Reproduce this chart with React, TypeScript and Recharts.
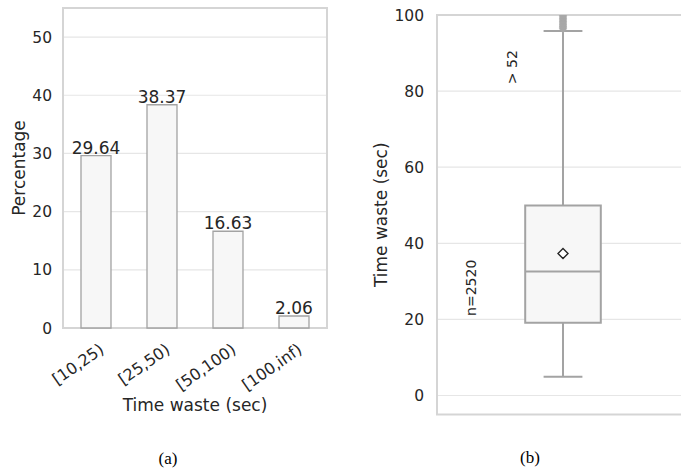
import React from "react";
import {
  BarChart, Bar, ComposedChart, Scatter, XAxis, YAxis, CartesianGrid,
  ReferenceArea, ReferenceLine, ReferenceDot, LabelList, Label
} from "recharts";

// (a) share of samples per time-waste bin
const BINS = ["[10,25)", "[25,50)", "[50,100)", "[100,inf)"];
const PCT = [29.64, 38.37, 16.63, 2.06];
const PCT_TICKS = [0, 10, 20, 30, 40, 50];

// (b) box plot summary, time waste in seconds
const BOX_STATS = { low: 4.9, q1: 19.1, median: 32.6, q3: 49.9, high: 95.8, mean: 37.3 };
const OUTLIERS = [96.4, 96.8, 97.1, 97.5, 97.9, 98.3, 98.7, 99.1, 99.5, 99.9];
const WASTE_TICKS = [0, 20, 40, 60, 80, 100];
const N_LABEL = "n=2520";
const OVER_LABEL = "> 52";

const barData = BINS.map((bin, i) => ({ bin, pct: PCT[i] }));

const FONT = "'DejaVu Sans', sans-serif";
const TXT = "#262626";
const SPINE = "#d5d5d5";
const GRID = "#e6e6e6";
const EDGE = "#a3a3a3";
const FACE = "#f7f7f7";

function XTick({ x, y, payload }: any) {
  const px = x + 9;
  const py = y + 24;
  return (
    <text x={px} y={py} textAnchor="end" transform={`rotate(-35, ${px}, ${py})`}
      fontSize={16} fill={TXT} fontFamily={FONT}>
      {payload.value}
    </text>
  );
}

function Diamond({ cx, cy }: any) {
  const r = 5;
  return <path d={`M${cx},${cy - r}L${cx + r},${cy}L${cx},${cy + r}L${cx - r},${cy}Z`}
    fill="#fff" stroke={TXT} strokeWidth={1.4} />;
}

function Flier({ cx, cy }: any) {
  return <path d={`M${cx},${cy - 4.5}L${cx + 3.5},${cy}L${cx},${cy + 4.5}L${cx - 3.5},${cy}Z`}
    fill="#a8a8a8" stroke="#a8a8a8" strokeWidth={1} />;
}

function BarPanel() {
  return (
    <BarChart width={340} height={420} data={barData}
      margin={{ top: 8, right: 13, left: 0, bottom: 0 }}>
      <CartesianGrid vertical={false} stroke={GRID} strokeWidth={1.2} />
      <XAxis dataKey="bin" height={92} tickLine={false} axisLine={false} tickSize={0}
        tickMargin={0} interval={0} tick={<XTick />}>
        <Label value="Time waste (sec)" position="insideBottom" offset={9}
          style={{ fontSize: 17, fill: TXT, fontFamily: FONT }} />
      </XAxis>
      <YAxis width={63} domain={[0, 55]} ticks={PCT_TICKS} tickLine={false} axisLine={false}
        tickMargin={5} tick={{ fontSize: 15.5, fill: TXT, fontFamily: FONT }}>
        <Label value="Percentage" angle={-90} position="insideLeft" offset={19}
          style={{ fontSize: 17, fill: TXT, fontFamily: FONT, textAnchor: "middle" }} />
      </YAxis>
      <Bar dataKey="pct" barSize={30} fill={FACE} stroke={EDGE} strokeWidth={1.3}
        isAnimationActive={false}>
        <LabelList dataKey="pct" position="top" offset={2}
          formatter={(v: any) => Number(v).toFixed(2)}
          style={{ fontSize: 17, fill: TXT, fontFamily: FONT }} />
      </Bar>
      <ReferenceArea y1={0} y2={55} fill="none" stroke={SPINE} strokeWidth={2}
        fillOpacity={0} ifOverflow="visible" />
    </BarChart>
  );
}

function BoxPanel() {
  const s = BOX_STATS;
  const c = 0.5;
  const textStyle = { fontSize: 14, fill: TXT, fontFamily: FONT, textAnchor: "middle" as const };
  return (
    <ComposedChart width={340} height={430} margin={{ top: 15, right: 11, left: 0, bottom: 15.5 }}>
      <CartesianGrid vertical={false} stroke={GRID} strokeWidth={1.2} />
      <XAxis type="number" dataKey="x" domain={[0, 1]} hide allowDataOverflow />
      <YAxis type="number" dataKey="y" domain={[-5, 100]} ticks={WASTE_TICKS} allowDataOverflow
        width={77} tickLine={false} axisLine={false} tickMargin={7}
        tick={{ fontSize: 15.5, fill: TXT, fontFamily: FONT }}>
        <Label value="Time waste (sec)" angle={-90} position="insideLeft" offset={21}
          style={{ fontSize: 17, fill: TXT, fontFamily: FONT, textAnchor: "middle" }} />
      </YAxis>
      <ReferenceArea x1={0} x2={1} y1={-5} y2={100} fill="none" fillOpacity={0}
        stroke={SPINE} strokeWidth={2} ifOverflow="visible" />
      <ReferenceLine segment={[{ x: c, y: s.q3 }, { x: c, y: s.high }]} stroke={EDGE} strokeWidth={2} />
      <ReferenceLine segment={[{ x: c, y: s.q1 }, { x: c, y: s.low }]} stroke={EDGE} strokeWidth={2} />
      <ReferenceLine segment={[{ x: c - 0.077, y: s.high }, { x: c + 0.077, y: s.high }]} stroke={EDGE} strokeWidth={2} />
      <ReferenceLine segment={[{ x: c - 0.077, y: s.low }, { x: c + 0.077, y: s.low }]} stroke={EDGE} strokeWidth={2} />
      <ReferenceArea x1={c - 0.15} x2={c + 0.15} y1={s.q1} y2={s.q3} fill={FACE} fillOpacity={1}
        stroke={EDGE} strokeWidth={2} />
      <ReferenceLine segment={[{ x: c - 0.15, y: s.median }, { x: c + 0.15, y: s.median }]} stroke={EDGE} strokeWidth={2} />
      <Scatter data={OUTLIERS.map((y) => ({ x: c, y }))} shape={<Flier />} isAnimationActive={false} />
      <Scatter data={[{ x: c, y: s.mean }]} shape={<Diamond />} isAnimationActive={false} />
      <ReferenceDot x={0.296} y={86.3} r={0} fill="none" stroke="none"
        label={{ value: OVER_LABEL, angle: -90, position: "center", style: textStyle }} />
      <ReferenceDot x={0.135} y={28.3} r={0} fill="none" stroke="none"
        label={{ value: N_LABEL, angle: -90, position: "center", style: textStyle }} />
    </ComposedChart>
  );
}

const caption: React.CSSProperties = {
  position: "absolute", transform: "translate(-50%, -50%)",
  fontFamily: "'Liberation Serif', serif", fontSize: 17, color: "#000",
};

export default function App() {
  return (
    <div style={{ position: "absolute", left: 0, top: 0, width: 681, height: 473,
      overflow: "hidden", background: "#fff" }}>
      <div style={{ position: "absolute", left: 0, top: 0 }}>
        <BarPanel />
      </div>
      <div style={{ position: "absolute", left: 360, top: 0 }}>
        <BoxPanel />
      </div>
      <div style={{ ...caption, left: 168, top: 459 }}>(a)</div>
      <div style={{ ...caption, left: 530, top: 458 }}>(b)</div>
    </div>
  );
}
